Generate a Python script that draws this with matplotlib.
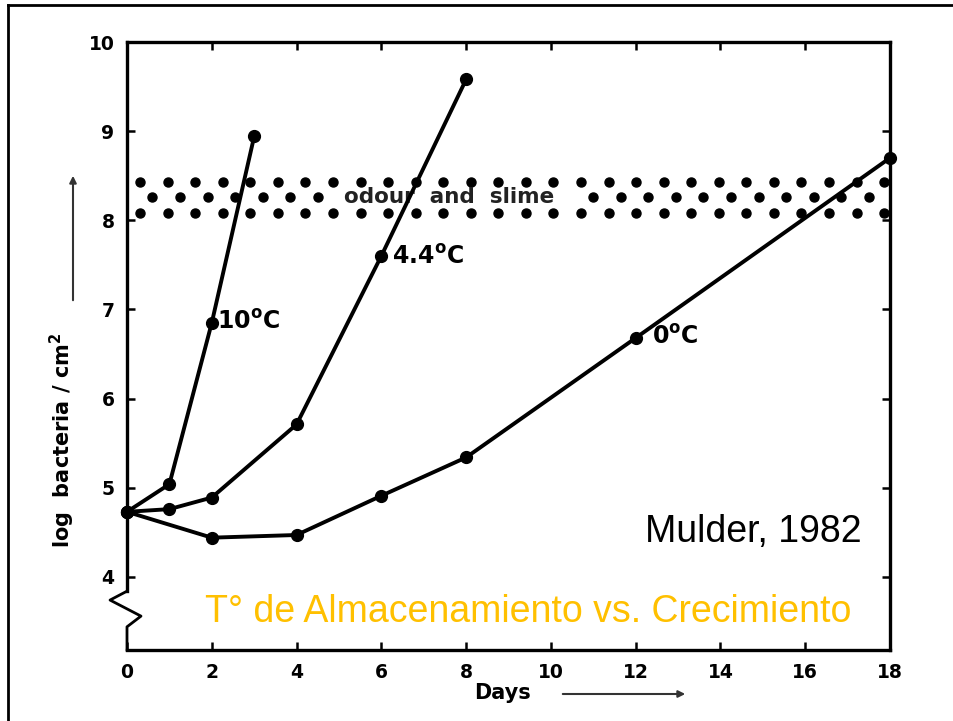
import numpy as np
import matplotlib
matplotlib.use('Agg')
import matplotlib.pyplot as plt
from matplotlib.lines import Line2D

# Datos (Mulder, 1982)
dias_10 = [0, 1, 2, 3]
log_10 = [4.73, 5.04, 6.85, 8.94]

dias_44 = [0, 1, 2, 4, 6, 8]
log_44 = [4.73, 4.76, 4.89, 5.71, 7.60, 9.58]

dias_0 = [0, 2, 4, 6, 8, 12, 18]
log_0 = [4.73, 4.44, 4.47, 4.91, 5.34, 6.68, 8.70]

# banda de olor y limo
banda_filas = [8.43, 8.26, 8.08]

x_ticks = [0, 2, 4, 6, 8, 10, 12, 14, 16, 18]
y_ticks = [4, 5, 6, 7, 8, 9, 10]

fig = plt.figure(figsize=(9.54, 7.21), dpi=100)
ax = fig.add_axes([127/954, 1-650/721, (890-127)/954, (650-42)/721])
ax.set_xlim(0, 18)
ax.set_ylim(3.18, 10)

# puntos de la banda (textura)
paso = 0.65
for i, yb in enumerate(banda_filas):
    inicio = 0.31 if i != 1 else 0.6
    xs = np.arange(inicio, 17.99, paso)
    if i == 1:
        xs = xs[(xs < 4.75) | (xs > 10.4)]
    ax.plot(xs, [yb]*len(xs), 'o', color='black', ms=6.5, zorder=2)
ax.text(7.6, 8.26, 'odour  and  slime', ha='center', va='center',
        fontsize=15.5, fontweight='bold', color='#222222', zorder=3)

estilo = dict(color='black', lw=2.8, marker='o', ms=8.5, zorder=4, clip_on=False)
ax.plot(dias_10, log_10, **estilo)
ax.plot(dias_44, log_44, **estilo)
ax.plot(dias_0, log_0, **estilo)

ax.text(2.12, 6.86, r'$\mathbf{10^{o}C}$', fontsize=17, va='center', ha='left')
ax.text(6.25, 7.59, r'$\mathbf{4.4^{o}C}$', fontsize=17, va='center', ha='left')
ax.text(12.38, 6.69, r'$\mathbf{0^{o}C}$', fontsize=17, va='center', ha='left')

# ejes
for s in ['top', 'right', 'bottom']:
    ax.spines[s].set_linewidth(2.4)
ax.spines['left'].set_visible(False)
ax.plot([0, 0], [10, 3.84], color='black', lw=2.4, clip_on=False, zorder=5)
ax.plot([0, -0.4, 0.33, 0, 0], [3.84, 3.74, 3.56, 3.44, 3.18], color='black', lw=2.0,
        clip_on=False, zorder=5)

ax.set_xticks(x_ticks)
ax.set_yticks(y_ticks)
ax.tick_params(direction='in', length=6, width=1.8, top=True, right=True,
               labelsize=13.5, pad=9)
for lab in ax.get_xticklabels() + ax.get_yticklabels():
    lab.set_fontweight('bold')

fig.text(62/954, 1-440/721, r'log  bacteria / cm$\mathbf{^2}$', rotation=90,
         ha='center', va='center', fontsize=15, fontweight='bold')
fig.text(503/954, 1-693/721, 'Days', ha='center', va='center',
         fontsize=15, fontweight='bold')
ax.annotate('', xy=(73/954, 1-173/721), xytext=(73/954, 1-303/721),
            xycoords='figure fraction',
            arrowprops=dict(arrowstyle='-|>', color='#333333', lw=1.5))
ax.annotate('', xy=(688/954, 1-694/721), xytext=(560/954, 1-694/721),
            xycoords='figure fraction',
            arrowprops=dict(arrowstyle='-|>', color='#333333', lw=1.5))

fig.text(645/954, 1-542/721, 'Mulder, 1982', fontsize=27, color='black',
         family='Liberation Sans', va='baseline', ha='left')
fig.text(205/954, 1-622/721, 'T° de Almacenamiento vs. Crecimiento', fontsize=27,
         color='#FFC000', family='Liberation Sans', va='baseline', ha='left')

# marco exterior
fig.add_artist(Line2D([8/954, 1], [1-5/721, 1-5/721], color='black', lw=2))
fig.add_artist(Line2D([8/954, 8/954], [0, 1-5/721], color='black', lw=2))

fig.savefig('out.png', dpi=100)
